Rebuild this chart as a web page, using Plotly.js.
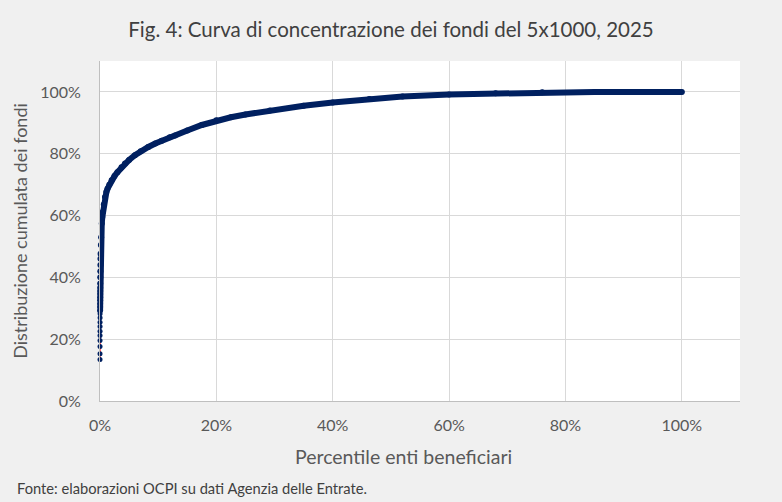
<!DOCTYPE html>
<html>
<head>
<meta charset="utf-8">
<script src="https://cdn.plot.ly/plotly-3.0.1.min.js"></script>
<style>
html,body{margin:0;padding:0;background:#f0f0f0;}
#chart{width:782px;height:502px;}
</style>
</head>
<body>
<div id="chart"></div>
<script>
// Percentile of beneficiary entities (%), cumulative share of funds (%)
const percentileEnti = [
  0.001, 0.003, 0.004, 0.006, 0.007, 0.008, 0.010, 0.011, 0.013, 0.014,
  0.016, 0.018, 0.020, 0.022, 0.025, 0.028, 0.031, 0.035, 0.04, 0.05,
  0.06, 0.07, 0.08, 0.1, 0.15, 0.2, 0.3, 0.4, 0.5, 0.65,
  0.86, 1.1, 1.3, 1.6, 2, 2.5, 3, 3.7, 4.3, 5,
  6, 7, 8.3, 9.5, 10.6, 12, 12.9, 15, 17.5, 20,
  22.5, 25, 29.2, 35, 40, 46.3, 52, 60, 68, 76,
  85, 100
];
const fondiCumulati = [
  13.4, 15.3, 17.6, 19.6, 21.2, 22.6, 24.1, 25.5, 26.9, 28.2,
  29.3, 30.4, 31.5, 32.6, 33.6, 34.6, 35.6, 36.6, 38.0, 40.0,
  42.0, 44.0, 46.0, 47.6, 50.5, 53.0, 57.4, 59.5, 61.2, 63.6,
  66.0, 67.6, 68.7, 70.0, 71.4, 72.8, 74.0, 75.6, 76.8, 78.0,
  79.5, 80.8, 82.2, 83.3, 84.2, 85.3, 85.9, 87.5, 89.3, 90.8,
  91.8, 92.7, 94.0, 95.5, 96.6, 97.7, 98.5, 99.2, 99.6, 99.9,
  100, 100
];
const tickVals = [0, 20, 40, 60, 80, 100];
const tickText = ["0%", "20%", "40%", "60%", "80%", "100%"];

const startDense = 10; // from here the markers merge into a continuous band
const traces = [
  {
    x: percentileEnti, y: fondiCumulati, type: 'scatter', mode: 'lines+markers',
    line: {color: '#ff0000', width: 1},
    marker: {color: '#002060', size: 5, symbol: 'circle'},
    cliponaxis: false,
    hoverinfo: 'skip', showlegend: false
  },
  {
    x: percentileEnti.slice(startDense), y: fondiCumulati.slice(startDense),
    type: 'scatter', mode: 'lines+markers',
    line: {color: '#002060', width: 6},
    marker: {color: '#002060', size: 6, symbol: 'circle'},
    cliponaxis: false,
    hoverinfo: 'skip', showlegend: false
  }
];

const fontFam = 'Lato, "Open Sans", sans-serif';
const layout = {
  width: 782, height: 502,
  paper_bgcolor: '#f0f0f0', plot_bgcolor: '#ffffff',
  margin: {l: 100, r: 42, t: 61, b: 101},
  title: {
    text: 'Fig. 4: Curva di concentrazione dei fondi del 5x1000, 2025',
    font: {family: fontFam, size: 20.5, color: '#404040'},
    x: 0.5, xanchor: 'center', y: 0.94, yanchor: 'middle'
  },
  xaxis: {
    range: [0, 110], tickvals: tickVals, ticktext: tickText,
    showgrid: true, gridcolor: '#d9d9d9', gridwidth: 1,
    zeroline: false, showline: true, linecolor: '#bfbfbf', linewidth: 1,
    ticks: 'outside', ticklen: 10, tickcolor: 'rgba(0,0,0,0)',
    tickfont: {family: fontFam, size: 16, color: '#595959'},
    fixedrange: true
  },
  yaxis: {
    range: [0, 110], tickvals: tickVals, ticktext: tickText,
    showgrid: true, gridcolor: '#d9d9d9', gridwidth: 1,
    zeroline: false, showline: true, linecolor: '#bfbfbf', linewidth: 1,
    ticks: 'outside', ticklen: 15, tickcolor: 'rgba(0,0,0,0)',
    tickfont: {family: fontFam, size: 16, color: '#595959'},
    title: {text: 'Distribuzione cumulata dei fondi', font: {family: fontFam, size: 18, color: '#595959'}, standoff: 7},
    fixedrange: true
  },
  annotations: [
    {
      text: 'Percentile enti beneficiari',
      xref: 'paper', yref: 'paper', x: 303/640, y: -55/340,
      xanchor: 'center', yanchor: 'middle', showarrow: false,
      font: {family: fontFam, size: 19.5, color: '#595959'}
    },
    {
      text: 'Fonte: elaborazioni OCPI su dati Agenzia delle Entrate.',
      xref: 'paper', yref: 'paper', x: -85/640, y: -0.255,
      xanchor: 'left', yanchor: 'middle', showarrow: false,
      font: {family: fontFam, size: 14.7, color: '#404040'}
    }
  ]
};
Plotly.newPlot('chart', traces, layout, {displayModeBar: false, staticPlot: true});
</script>
</body>
</html>
